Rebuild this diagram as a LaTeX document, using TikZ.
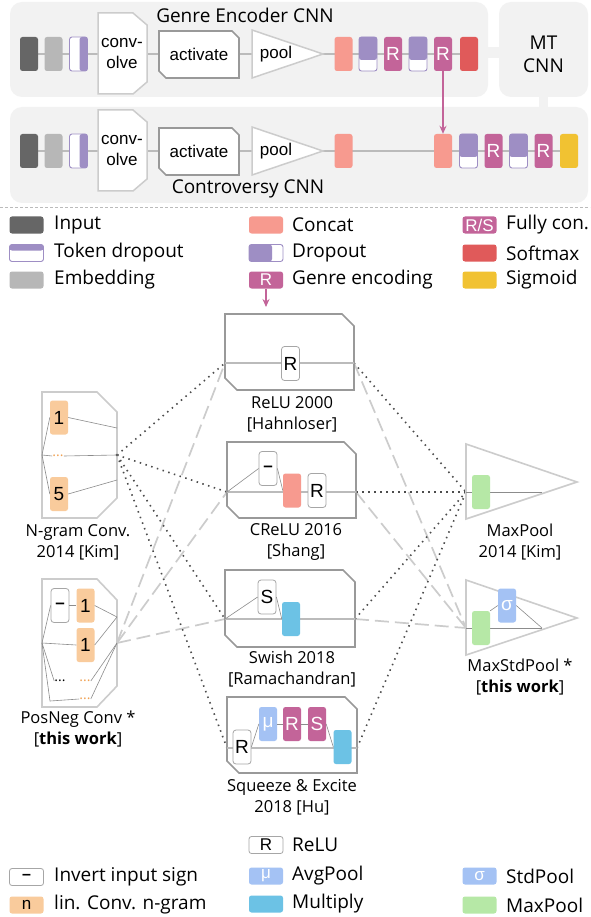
\documentclass[tikz,border=0pt]{standalone}
\usepackage{fontspec}
\setmainfont{Open Sans}
\newfontfamily\arialf{Liberation Sans}
\usetikzlibrary{arrows.meta}
\pgfdeclarelayer{bgA}
\pgfdeclarelayer{bgB}
\pgfsetlayers{bgA,bgB,main}
\definecolor{bgbox}{HTML}{F2F2F2}
\definecolor{cinput}{HTML}{666666}
\definecolor{cemb}{HTML}{B7B7B7}
\definecolor{cpurp}{HTML}{9E8EC4}
\definecolor{cconcat}{HTML}{F79A8F}
\definecolor{cfc}{HTML}{C36499}
\definecolor{csoft}{HTML}{E05A5A}
\definecolor{csig}{HTML}{F1C232}
\definecolor{cngram}{HTML}{F9CB9C}
\definecolor{cdots}{HTML}{F0A050}
\definecolor{cavg}{HTML}{A4C2F4}
\definecolor{cmult}{HTML}{6CC2E5}
\definecolor{cmax}{HTML}{B6E8A6}
\definecolor{cline}{HTML}{BBBBBB}
\definecolor{cshape}{HTML}{CCCCCC}
\definecolor{cact}{HTML}{999999}
\tikzset{
 gbox/.style={fill=bgbox, rounded corners=12, inner sep=0},
 blk/.style={rectangle, rounded corners=2.5, minimum width=18, minimum height=34, inner sep=0, text=white, font=\arialf\fontsize{19}{19}\selectfont},
 vdrop/.style={blk, draw=cpurp, line width=0.9, fill=white, path picture={\fill[cpurp] (path picture bounding box.north west) rectangle ([yshift=11pt]path picture bounding box.south east);}},
 tdrop/.style={blk, draw=cpurp, line width=0.9, fill=white, path picture={\fill[cpurp] ([xshift=-8pt]path picture bounding box.north east) rectangle (path picture bounding box.south east);}},
 wbox/.style={blk, fill=white, draw=black!35, line width=0.8, text=black, rounded corners=3},
 obox/.style={blk, fill=cngram, text=black},
 boxtext/.style={font=\arialf\fontsize{17}{21}\selectfont, inner sep=0, align=center},
 title/.style={font=\fontsize{19}{23}\selectfont, inner sep=0, align=center},
 lab/.style={font=\fontsize{16.5}{21}\selectfont, inner sep=0, align=center},
 legt/.style={font=\fontsize{19}{23}\selectfont, anchor=west, inner sep=0},
 sw/.style={rectangle, rounded corners=2.5, minimum width=34, minimum height=17, inner sep=0, text=white, font=\arialf\fontsize{17}{17}\selectfont},
 rowline/.style={draw=cline, line width=1.5},
 inline/.style={draw=cline, line width=1.3},
 thin/.style={draw=black!45, line width=0.6},
 convshape/.style={draw=cshape, fill=white, line width=1.5},
 actline/.style={draw=cact, fill=white, line width=1.6},
 lshape/.style={draw=cshape, line width=1.6},
 dotline/.style={draw=black!70, line width=1.6, dash pattern=on 1.5pt off 4.5pt},
 dashline/.style={draw=cshape, line width=1.7, dash pattern=on 14pt off 6pt},
 genarrow/.style={draw=cfc, line width=1.5, -{Stealth[length=8pt,width=7pt]}},
}
\newcommand\frontrow[2]{%
 \node[blk, fill=cinput] (in#2) at (29,#1) {};
 \node[blk, fill=cemb] (em#2) at (53.5,#1) {};
 \node[tdrop] (td#2) at (78.5,#1) {};
 \draw[convshape] (98,{#1-41}) -- (133,{#1-41}) -- (147,{#1-29}) -- (147,{#1+28}) -- (133,{#1+40}) -- (98,{#1+40}) -- cycle;
 \node[boxtext] (cv#2) at (122,#1) {conv-\\olve};
 \draw[actline] (159,{#1-23}) -- (232,{#1-23}) -- (239,{#1-16}) -- (239,{#1+24}) -- (166,{#1+24}) -- (159,{#1+17}) -- cycle;
 \node[boxtext] (ac#2) at (199,#1) {activate};
 \draw[convshape] (252,{#1-24}) -- (323,#1) -- (252,{#1+24}) -- cycle;
 \node[boxtext] (po#2) at (276,#1) {pool};
}
\newcommand\myact[4]{\draw[actline] (#1,#2) -- ({#3-12},#2) -- (#3,{#2+12}) -- (#3,#4) -- ({#1+12},#4) -- (#1,{#4-12}) -- cycle;}
\begin{document}
\begin{tikzpicture}[x=1pt,y=-1pt]
\useasboundingbox (0,0) rectangle (590,917);
% ---------- top boxes
\begin{pgfonlayer}{bgA}
\path[fill=white] (0,0) rectangle (590,917);
\node[gbox, minimum width=478, minimum height=95] (genre) at (249,49.5) {};
\node[gbox, minimum width=89, minimum height=95] (mt) at (543.5,49.5) {};
\node[gbox, minimum width=578, minimum height=96] (contro) at (299,155) {};
\draw[bgbox, line width=11] ([yshift=-3pt]genre.east) -- ([yshift=-3pt]mt.west);
\draw[bgbox, line width=9] (mt.south) -- (mt.south |- contro.north);
\end{pgfonlayer}
\node[title] (gtitle) at (245,15) {Genre Encoder CNN};
\node[title] (ctitle) at (248,189) {Controversy CNN};
\node[title] (mttitle) at (543.5,54) {MT\\CNN};
% ---------- genre row
\frontrow{54}{a}
\node[blk, fill=cconcat] (ca) at (343.5,54) {};
\node[vdrop] (da1) at (368,54) {};
\node[blk, fill=cfc] (ra1) at (393,54) {R};
\node[vdrop] (da2) at (418,54) {};
\node[blk, fill=cfc] (ra2) at (443,54) {R};
\node[blk, fill=csoft] (sma) at (469,54) {};
% ---------- controversy row
\frontrow{151}{b}
\node[blk, fill=cconcat] (cb1) at (343.5,151) {};
\node[blk, fill=cconcat] (cb2) at (443,151) {};
\node[vdrop] (db1) at (468.5,151) {};
\node[blk, fill=cfc] (rb1) at (493.5,151) {R};
\node[vdrop] (db2) at (518.5,151) {};
\node[blk, fill=cfc] (rb2) at (543.5,151) {R};
\node[blk, fill=csig] (sgb) at (569,151) {};
\begin{pgfonlayer}{bgB}
\draw[rowline] (ina.center) -- (sma.center);
\draw[rowline] (inb.center) -- (sgb.center);
\end{pgfonlayer}
\draw[genarrow] (ra2.south) -- (cb2.north);
% ---------- separator
\coordinate (sepL) at (0,208);
\coordinate (sepR) at (590,208);
\draw[cline, line width=1, dash pattern=on 3pt off 2pt] (sepL) -- (sepR);
% ---------- legend 1
\node[sw, fill=cinput] (l1) at (26.5,225) {};
\node[legt] at (54,225) {Input};
\node[sw, fill=white, draw=cpurp, line width=0.9, path picture={\fill[cpurp] (path picture bounding box.north west) rectangle ([yshift=-6pt]path picture bounding box.north east);}] (l2) at (26.5,253) {};
\node[legt] at (54,253) {Token dropout};
\node[sw, fill=cemb] (l3) at (26.5,280) {};
\node[legt] at (54,280) {Embedding};
\node[sw, fill=cconcat] (l4) at (266,225) {};
\node[legt] at (292,225) {Concat};
\node[sw, fill=white, draw=cpurp, line width=0.9, path picture={\fill[cpurp] (path picture bounding box.north west) rectangle ([xshift=-11pt]path picture bounding box.south east);}] (l5) at (266,253) {};
\node[legt] at (292,253) {Dropout};
\node[sw, fill=cfc] (l6) at (266,280) {R};
\node[legt] at (292,280) {Genre encoding};
\node[sw, fill=cfc] (l7) at (479.5,225) {R/S};
\node[legt] at (506,225) {Fully con.};
\node[sw, fill=csoft] (l8) at (479.5,253) {};
\node[legt] at (506,253) {Softmax};
\node[sw, fill=csig] (l9) at (479.5,280) {};
\node[legt] at (506,280) {Sigmoid};
\coordinate (genend) at (266,307);
\draw[genarrow] (l6.south) -- (genend);
% ---------- coordinates of middle part
\coordinate (ngL) at (42,455);
\coordinate (ngR) at (117,455);
\coordinate (ngR1) at (117,428);
\coordinate (ngR5) at (117,480);
\coordinate (pnL) at (42,643);
\coordinate (pnR) at (117,643);
\coordinate (pnR1) at (117,617);
\coordinate (pnB) at (50,701);
\coordinate (reluL) at (225,363);
\coordinate (reluR) at (354,363);
\coordinate (creluL) at (227,492);
\coordinate (creluR) at (356,492);
\coordinate (swL) at (225,619);
\coordinate (swR) at (355,619);
\coordinate (seL) at (227,748);
\coordinate (seR) at (357,748);
\coordinate (mpL) at (466,492);
\coordinate (mpE) at (542,492);
\coordinate (mspL) at (466,628);
\coordinate (mspE) at (542,628);
% ---------- connectors
\draw[dashline] (pnR) -- (reluL);
\draw[dashline] (pnR) -- (creluL);
\draw[dashline] (pnR) -- (swL);
\draw[dashline] (reluR) -- (mspL);
\draw[dashline] (creluR) -- (mspL);
\draw[dashline] (swR) -- (mspL);
\draw[dotline] (ngR) -- (reluL);
\draw[dotline] (ngR) -- (creluL);
\draw[dotline] (ngR) -- (swL);
\draw[dotline] (ngR) -- (seL);
\draw[dotline] (reluR) -- (mpL);
\draw[dotline] (creluR) -- (mpL);
\draw[dotline] (swR) -- (mpL);
\draw[dotline] (seR) -- (mpL);
% ---------- N-gram conv
\draw[lshape] (42,392) -- (97,392) -- (117,412) -- (117,498) -- (97,518) -- (42,518) -- cycle;
\node[obox] (g1) at (59,417.5) {1};
\node[inner sep=0, text=cdots, font=\fontsize{14}{14}\selectfont] (gd) at (58,456) {...};
\node[obox] (g5) at (59,494) {5};
\draw[thin] (ngL) -- (g1.west);
\draw[thin] (ngL) -- (gd.west);
\draw[thin] (ngL) -- (g5.west);
\draw[thin] (g1.east) -- (ngR1);
\draw[thin] (gd.east) -- (ngR);
\draw[thin] (g5.east) -- (ngR5);
\fill[black!65] (ngR) circle (1.4);
\node[lab] (nglab) at (78,542) {N-gram Conv.\\2014 [Kim]};
% ---------- PosNeg conv
\draw[lshape] (42,579) -- (97,579) -- (117,600) -- (117,686) -- (97,707) -- (42,707) -- cycle;
\node[wbox, font=\arialf\bfseries\fontsize{17}{17}\selectfont] (pmn) at (60,605.5) {–};
\node[obox] (p1) at (85.5,605.5) {1};
\node[obox] (p2) at (85.5,645) {1};
\node[inner sep=0, text=black, font=\fontsize{14}{14}\selectfont] (pdk) at (60,681) {...};
\node[inner sep=0, text=cdots, font=\fontsize{14}{14}\selectfont] (pdo) at (85,681) {...};
\node[inner sep=0, text=cdots, font=\fontsize{14}{14}\selectfont] (pdo2) at (85,699) {...};
\draw[thin] (pnL) -- (pmn.west);
\draw[thin] (pnL) -- (p2.west);
\draw[thin] (pnL) -- (pdk.west);
\draw[thin] (pnL) -- (pnB) -- (pdo2.west);
\draw[thin] (pmn.east) -- (p1.west);
\draw[thin] (p1.east) -- (pnR1);
\draw[thin] (p2.east) -- (pnR1);
\draw[thin] (pdo.east) -- (pnR);
\draw[thin] (pdo2.east) -- (pnR);
\node[lab] (pnlab) at (78,729) {PosNeg Conv *\\{}[\textbf{this work}]};
% ---------- ReLU
\myact{225}{314}{354}{390}
\draw[inline] (reluL) -- (reluR);
\node[wbox] (r0) at (290.5,363.5) {R};
\node[lab] (relulab) at (292,414) {ReLU 2000\\{}[Hahnloser]};
% ---------- CReLU
\myact{227}{442}{356}{518}
\draw[inline] (creluL) -- (creluR);
\node[wbox, font=\arialf\bfseries\fontsize{17}{17}\selectfont] (mn1) at (268,468.5) {–};
\node[blk, fill=cconcat] (cc) at (292,490.5) {};
\node[wbox] (r1) at (317,490.5) {R};
\draw[thin] (creluL) -- (mn1.west);
\draw[thin] (mn1.east) -- (cc.west);
\node[lab] (crelulab) at (296,542) {CReLU 2016\\{}[Shang]};
% ---------- Swish
\myact{225}{570}{355}{647}
\draw[inline] (swL) -- (swR);
\node[wbox] (s1) at (267,597) {S};
\node[blk, fill=cmult] (m1) at (291,619) {};
\draw[thin] (swL) -- (s1.west);
\draw[thin] (s1.east) -- (m1.west);
\node[lab] (swlab) at (292,669.5) {Swish 2018\\{}[Ramachandran]};
% ---------- Squeeze & Excite
\myact{227}{697}{357}{773}
\draw[inline] (seL) -- (seR);
\node[wbox] (r2) at (242,747) {R};
\node[blk, fill=cavg] (mu1) at (268,724) {μ};
\node[blk, fill=cfc] (r3) at (292,724) {R};
\node[blk, fill=cfc] (s2) at (317,724) {S};
\node[blk, fill=cmult] (m2) at (342.5,747) {};
\draw[thin] (r2.east) -- (mu1.west);
\draw[thin] (mu1.east) -- (r3.west);
\draw[thin] (r3.east) -- (s2.west);
\draw[thin] (s2.east) -- (m2.west);
\node[lab] (selab) at (292,797) {Squeeze \& Excite\\2018 [Hu]};
% ---------- MaxPool
\draw[lshape] (466,444) -- (577,482) -- (466,519) -- cycle;
\draw[thin] (mpL) -- (mpE);
\node[blk, fill=cmax] (mx1) at (481,492) {};
\node[lab] (mplab) at (520,542) {MaxPool\\2014 [Kim]};
% ---------- MaxStdPool
\draw[lshape] (466,580) -- (577,618) -- (466,655) -- cycle;
\draw[thin] (mspL) -- (mspE);
\node[blk, fill=cmax] (mx2) at (481,628) {};
\node[blk, fill=cavg] (sg) at (507,605.5) {σ};
\draw[thin] (mx2.north east) -- (sg.west);
\draw[thin] (sg.east) -- (mspE);
\node[lab] (msplab) at (520,677.5) {MaxStdPool *\\{}[\textbf{this work}]};
% ---------- legend 2
\node[sw, fill=white, draw=black!35, line width=0.8, text=black] (k1) at (266,845) {R};
\node[legt] at (292,845) {ReLU};
\node[sw, fill=white, draw=black!35, line width=0.8, text=black, font=\arialf\bfseries\fontsize{16}{16}\selectfont] (k2) at (26.5,877) {–};
\node[legt] at (54,877) {Invert input sign};
\node[sw, fill=cngram, text=black] (k3) at (26.5,905) {n};
\node[legt] at (54,905) {lin. Conv. n-gram};
\node[sw, fill=cavg] (k4) at (266,876) {μ};
\node[legt] at (292,876) {AvgPool};
\node[sw, fill=cmult] (k5) at (266,904) {};
\node[legt] at (292,904) {Multiply};
\node[sw, fill=cavg] (k6) at (479.5,876) {σ};
\node[legt] at (506,876) {StdPool};
\node[sw, fill=cmax] (k7) at (479.5,905) {};
\node[legt] at (506,905) {MaxPool};
\end{tikzpicture}
\end{document}
